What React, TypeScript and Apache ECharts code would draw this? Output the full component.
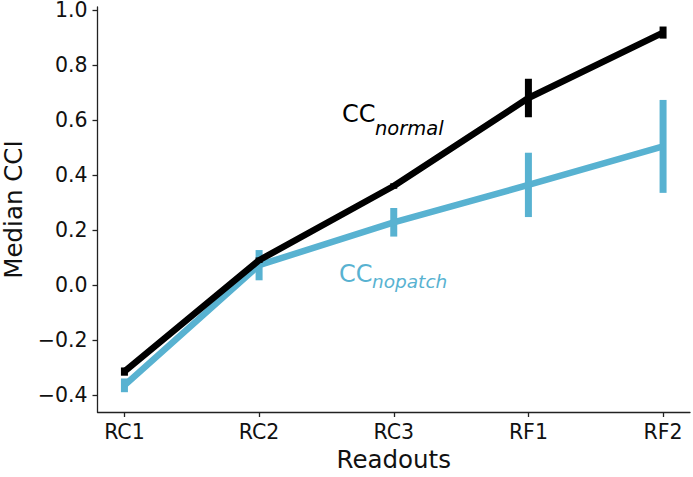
import React, { useEffect, useRef } from "react";
import * as echarts from "echarts";

const categories = ["RC1", "RC2", "RC3", "RF1", "RF2"];
const normalValues = [-0.315, 0.09, 0.36, 0.68, 0.918];
const normalErrors = [0.015, 0.01, 0.01, 0.07, 0.022];
const nopatchValues = [-0.365, 0.072, 0.228, 0.364, 0.504];
const nopatchErrors = [0.025, 0.055, 0.052, 0.117, 0.169];
const yTicks = [-0.4, -0.2, 0.0, 0.2, 0.4, 0.6, 0.8, 1.0];

const BLACK = "#000000";
const BLUE = "#58b2d1";
const FONT = "DejaVu Sans";

function errData(vals: number[], errs: number[]) {
  return vals.map((v, i) => [i, v - errs[i], v + errs[i]]);
}

function errSeries(vals: number[], errs: number[], color: string, z: number) {
  return {
    type: "custom",
    z,
    silent: true,
    data: errData(vals, errs),
    renderItem: (_params: any, api: any) => {
      const p1 = api.coord([api.value(0), api.value(1)]);
      const p2 = api.coord([api.value(0), api.value(2)]);
      return {
        type: "line",
        shape: { x1: p1[0], y1: p1[1], x2: p2[0], y2: p2[1] },
        style: { stroke: color, lineWidth: 7, lineCap: "butt" },
      };
    },
  };
}

function lineSeries(vals: number[], color: string, z: number) {
  return {
    type: "line",
    z,
    silent: true,
    symbol: "none",
    data: vals.map((v, i) => [i, v]),
    lineStyle: { color, width: 6.5, join: "round", cap: "butt" },
  };
}

export default function App() {
  const ref = useRef<HTMLDivElement>(null);
  useEffect(() => {
    if (!ref.current) return;
    const chart = echarts.init(ref.current, null, { renderer: "svg" });
    chart.setOption({
      animation: false,
      backgroundColor: "#ffffff",
      grid: { left: 97.5, right: 3, top: 7, bottom: 65, containLabel: false, outerBoundsMode: "none" },
      xAxis: {
        type: "value",
        min: -0.2,
        max: 4.2,
        name: "Readouts",
        nameLocation: "middle",
        nameGap: 33,
        nameTextStyle: { fontFamily: FONT, fontSize: 24.5, color: "#111" },
        axisLine: { show: true, onZero: false, lineStyle: { color: "#222", width: 1.3 } },
        axisTick: {
          show: true,
          length: 5,
          customValues: categories.map((_, i) => i),
          lineStyle: { color: "#222", width: 1.3 },
        },
        axisLabel: {
          customValues: categories.map((_, i) => i),
          formatter: (v: number) => categories[Math.round(v)] ?? "",
          fontFamily: FONT,
          fontSize: 20.5,
          color: "#111",
          margin: 9,
        },
        splitLine: { show: false },
      },
      yAxis: {
        type: "value",
        min: -0.462,
        max: 1.011,
        name: "Median CCI",
        nameLocation: "middle",
        nameGap: 72,
        nameTextStyle: { fontFamily: FONT, fontSize: 24.5, color: "#111" },
        axisLine: { show: true, onZero: false, lineStyle: { color: "#222", width: 1.3 } },
        axisTick: {
          show: true,
          length: 5,
          customValues: yTicks,
          lineStyle: { color: "#222", width: 1.3 },
        },
        axisLabel: {
          customValues: yTicks,
          formatter: (v: number) => {
            const s = v.toFixed(1);
            return s.startsWith("-") ? "\u2212" + s.slice(1) : s;
          },
          fontFamily: FONT,
          fontSize: 20.5,
          color: "#111",
          margin: 10,
        },
        splitLine: { show: false },
      },
      series: [
        errSeries(nopatchValues, nopatchErrors, BLUE, 2),
        lineSeries(nopatchValues, BLUE, 3),
        errSeries(normalValues, normalErrors, BLACK, 4),
        lineSeries(normalValues, BLACK, 5),
      ],
      graphic: [
        {
          type: "text",
          x: 342,
          y: 113.5,
          style: { text: "CC", fontFamily: FONT, fontSize: 24, fill: BLACK, verticalAlign: "middle" },
        },
        {
          type: "text",
          x: 375,
          y: 128.5,
          style: { text: "normal", fontFamily: FONT, fontStyle: "italic", fontSize: 19.5, fill: BLACK, verticalAlign: "middle" },
        },
        {
          type: "text",
          x: 339,
          y: 273.5,
          style: { text: "CC", fontFamily: FONT, fontSize: 24, fill: BLUE, verticalAlign: "middle" },
        },
        {
          type: "text",
          x: 372,
          y: 281.5,
          style: { text: "nopatch", fontFamily: FONT, fontStyle: "italic", fontSize: 18.5, fill: BLUE, verticalAlign: "middle" },
        },
      ],
    });
    return () => chart.dispose();
  }, []);
  return <div ref={ref} style={{ width: 693, height: 477, position: "absolute", left: 0, top: 0 }} />;
}
